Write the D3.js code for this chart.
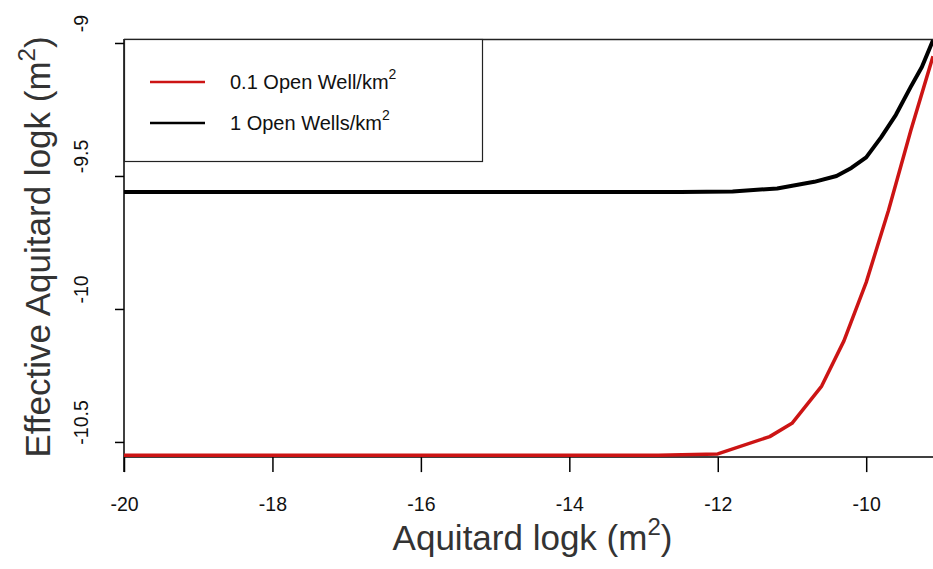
<!DOCTYPE html>
<html>
<head>
<meta charset="utf-8">
<script src="https://cdn.jsdelivr.net/npm/d3@7"></script>
<style>
  html, body { margin: 0; padding: 0; background: #fff; }
  svg { display: block; font-family: "Liberation Sans", Arial, sans-serif; }
</style>
</head>
<body>
<div id="wrapper"></div>
<script>
// data
const logkRed = [-20, -12.8, -12, -11.3, -11.0, -10.6, -10.3, -10.0, -9.7, -9.4, -9.1]
const effRed = [-10.55, -10.55, -10.545, -10.48, -10.43, -10.29, -10.12, -9.90, -9.63, -9.33, -9.05]
const logkBlack = [-20, -12.5, -11.8, -11.2, -10.7, -10.4, -10.2, -10.0, -9.8, -9.6, -9.4, -9.25, -9.1]
const effBlack = [-9.56, -9.56, -9.558, -9.547, -9.522, -9.5, -9.47, -9.43, -9.355, -9.27, -9.165, -9.09, -8.99]
const xTicks = [-20, -18, -16, -14, -12, -10]
const yTicks = [-9, -9.5, -10, -10.5]
const seriesNames = ["0.1 Open Well/km", "1 Open Wells/km"]
const seriesColors = ["#cc1414", "#000000"]

const dimensions = {
  width: 933,
  height: 569,
  margin: { top: 39, right: 0, bottom: 97, left: 124 },
}
dimensions.boundedWidth = dimensions.width - dimensions.margin.left - dimensions.margin.right
dimensions.boundedHeight = dimensions.height - dimensions.margin.top - dimensions.margin.bottom

const toPoints = (xs, ys) => xs.map((x, i) => ({ x, y: ys[i] }))
const series = [toPoints(logkRed, effRed), toPoints(logkBlack, effBlack)]

const svg = d3.select("#wrapper")
  .append("svg")
    .attr("width", dimensions.width)
    .attr("height", dimensions.height)

const bounds = svg.append("g")
  .attr("transform", `translate(${dimensions.margin.left},${dimensions.margin.top})`)

const xScale = d3.scaleLinear()
  .domain([-20, -9.1])
  .range([0, dimensions.boundedWidth])

const yScale = d3.scaleLinear()
  .domain([-10.613, -8.985])
  .range([dimensions.boundedHeight, 0])

const xAxisY = yScale(-10.557)

// top frame line
bounds.append("line")
  .attr("x1", 0).attr("x2", dimensions.boundedWidth)
  .attr("y1", 0.5).attr("y2", 0.5)
  .attr("stroke", "#222").attr("stroke-width", 1.5)

// x axis
const xAxis = bounds.append("g")
  .attr("transform", `translate(0,${xAxisY})`)
  .call(d3.axisBottom(xScale).tickValues(xTicks).tickSize(15).tickSizeOuter(0)
    .tickFormat(d => d))
xAxis.select(".domain").remove()
xAxis.append("line")
  .attr("x1", 0).attr("x2", dimensions.boundedWidth)
  .attr("stroke", "#000").attr("stroke-width", 1.5)
xAxis.selectAll(".tick line").attr("stroke", "#000").attr("stroke-width", 1.5)
xAxis.selectAll(".tick text")
  .attr("y", 54)
  .attr("dy", 0)
  .attr("fill", "#111")
  .style("font-size", "19.5px")

// y axis (labels sit a little above their ticks in the original)
const yAxis = bounds.append("g")
  .call(d3.axisLeft(yScale).tickValues(yTicks).tickSize(9).tickSizeOuter(0)
    .tickFormat(d => d))
yAxis.select(".domain").remove()
yAxis.append("line")
  .attr("y1", 0).attr("y2", dimensions.boundedHeight)
  .attr("stroke", "#000").attr("stroke-width", 1.5)
yAxis.selectAll(".tick line").attr("stroke", "#000").attr("stroke-width", 1.5)
yAxis.selectAll(".tick text")
  .attr("x", 0).attr("dy", 0)
  .attr("transform", "translate(-36,-20) rotate(-90)")
  .attr("text-anchor", "middle")
  .attr("fill", "#111")
  .style("font-size", "19.5px")

// lines
const lineGenerator = d3.line()
  .x(d => xScale(d.x))
  .y(d => yScale(d.y))

bounds.append("path")
  .attr("d", lineGenerator(series[1]))
  .attr("fill", "none")
  .attr("stroke", seriesColors[1])
  .attr("stroke-width", 4)
  .attr("stroke-linejoin", "round")

bounds.append("path")
  .attr("d", lineGenerator(series[0]))
  .attr("fill", "none")
  .attr("stroke", seriesColors[0])
  .attr("stroke-width", 3.5)
  .attr("stroke-linejoin", "round")

// legend
const legend = bounds.append("g")
legend.append("rect")
  .attr("x", 0.5).attr("y", 0.5)
  .attr("width", 358).attr("height", 122)
  .attr("fill", "#fff")
  .attr("stroke", "#222").attr("stroke-width", 1.2)

seriesNames.forEach((name, i) => {
  const cy = 43 + i * 41
  legend.append("line")
    .attr("x1", 26).attr("x2", 81)
    .attr("y1", cy).attr("y2", cy)
    .attr("stroke", seriesColors[i]).attr("stroke-width", 2.5)
  const t = legend.append("text")
    .attr("x", 106).attr("y", cy + 7)
    .attr("fill", "#111")
    .style("font-size", "20px")
  t.append("tspan").text(name)
  t.append("tspan").text("2").attr("dy", -10).style("font-size", "14px")
})

// axis titles
const xTitle = svg.append("text")
  .attr("x", dimensions.margin.left + dimensions.boundedWidth / 2 + 4)
  .attr("y", 550)
  .attr("text-anchor", "middle")
  .attr("fill", "#333")
  .style("font-size", "35px")
xTitle.append("tspan").text("Aquitard logk (m")
xTitle.append("tspan").text("2").attr("dy", -15).style("font-size", "24px")
xTitle.append("tspan").text(")").attr("dy", 15)

const yTitle = svg.append("text")
  .attr("transform", "translate(50,247) rotate(-90)")
  .attr("text-anchor", "middle")
  .attr("fill", "#333")
  .style("font-size", "35px")
yTitle.append("tspan").text("Effective Aquitard logk (m")
yTitle.append("tspan").text("2").attr("dy", -15).style("font-size", "24px")
yTitle.append("tspan").text(")").attr("dy", 15)
</script>
</body>
</html>
